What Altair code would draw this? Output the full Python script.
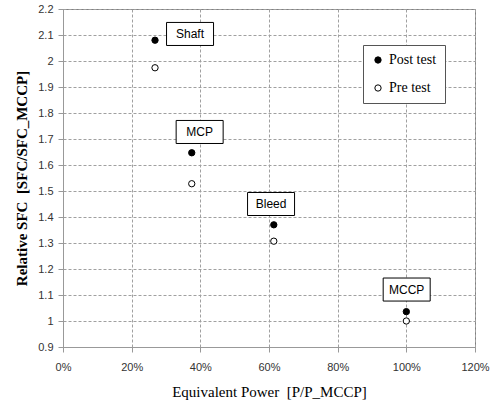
import altair as alt
import pandas as pd

# Data
points = ["Shaft", "MCP", "Bleed", "MCCP"]
power = [0.268, 0.375, 0.614, 1.0]
post_test = [2.08, 1.647, 1.370, 1.036]
pre_test = [1.974, 1.528, 1.307, 1.0]
# annotation box anchors (data units)
label_x = [0.37, 0.398, 0.606, 1.001]
label_y = [2.104, 1.727, 1.45, 1.121]

y_ticks = [0.9, 1.0, 1.1, 1.2, 1.3, 1.4, 1.5, 1.6, 1.7, 1.8, 1.9, 2.0, 2.1, 2.2]
x_ticks = [0, 0.2, 0.4, 0.6, 0.8, 1.0, 1.2]

rows = []
for p, x, a, b in zip(points, power, post_test, pre_test):
    rows.append({"point": p, "power": x, "sfc": a, "series": "Post test"})
    rows.append({"point": p, "power": x, "sfc": b, "series": "Pre test"})
df = pd.DataFrame(rows)
labels = pd.DataFrame({"point": points, "lx": label_x, "ly": label_y})

xscale = alt.Scale(domain=[0, 1.2], nice=False)
yscale = alt.Scale(domain=[0.9, 2.2], nice=False, zero=False)

common = dict(grid=True, gridDash=[3, 2], gridColor="#a0a0a0", gridWidth=1,
              domainColor="#999999", tickColor="#999999", tickSize=5,
              labelFont="Liberation Sans", labelFontSize=11, labelColor="#333333",
              labelOverlap=False, labelFlush=False,
              titleFont="Liberation Serif", titleColor="black")

xaxis = alt.Axis(values=x_ticks, tickCount=len(x_ticks), format=".0%",
                 title="Equivalent Power\u00a0\u00a0[P/P_MCCP]",
                 labelPadding=9, titleFontSize=15, titleFontWeight="normal",
                 titlePadding=12, **common)
yaxis = alt.Axis(values=y_ticks, tickCount=len(y_ticks), format="~g",
                 title="Relative SFC\u00a0\u00a0[SFC/SFC_MCCP]",
                 labelPadding=5, titleFontSize=15, titleFontWeight="bold",
                 titlePadding=8, **common)

pts = alt.Chart(df).mark_circle(size=40, stroke="black", strokeWidth=1, opacity=1).encode(
    x=alt.X("power:Q", scale=xscale, axis=xaxis),
    y=alt.Y("sfc:Q", scale=yscale, axis=yaxis),
    fill=alt.Fill("series:N",
                  scale=alt.Scale(domain=["Post test", "Pre test"], range=["black", "white"]),
                  legend=alt.Legend(title=None, orient="none", legendX=300, legendY=36,
                                    strokeColor="#555555", fillColor="white", padding=8,
                                    labelFont="Liberation Serif", labelFontSize=14,
                                    labelColor="black", symbolType="circle", symbolSize=40,
                                    symbolStrokeColor="black", symbolStrokeWidth=1,
                                    rowPadding=14, labelOffset=4)),
)

box_shape = "M-1,-0.49L1,-0.49L1,0.49L-1,0.49Z"
boxes = alt.Chart(labels).mark_point(shape=box_shape, size=47 * 47, filled=True,
                                     fill="white", stroke="black", strokeWidth=1,
                                     opacity=1).encode(
    x=alt.X("lx:Q", scale=xscale, axis=xaxis),
    y=alt.Y("ly:Q", scale=yscale, axis=yaxis),
)
texts = alt.Chart(labels).mark_text(font="Liberation Sans", fontSize=12, color="black",
                                    baseline="middle", align="center").encode(
    x=alt.X("lx:Q", scale=xscale, axis=xaxis),
    y=alt.Y("ly:Q", scale=yscale, axis=yaxis),
    text="point:N",
)

chart = alt.layer(pts, boxes, texts).properties(
    width=412, height=338,
    autosize=alt.AutoSizeParams(type="none"),
    padding={"left": 63, "top": 9, "right": 18, "bottom": 55},
    background="white",
).configure_view(stroke="#808080", strokeWidth=1)

chart.save("out.html", embed_options={"renderer": "svg", "actions": False})
